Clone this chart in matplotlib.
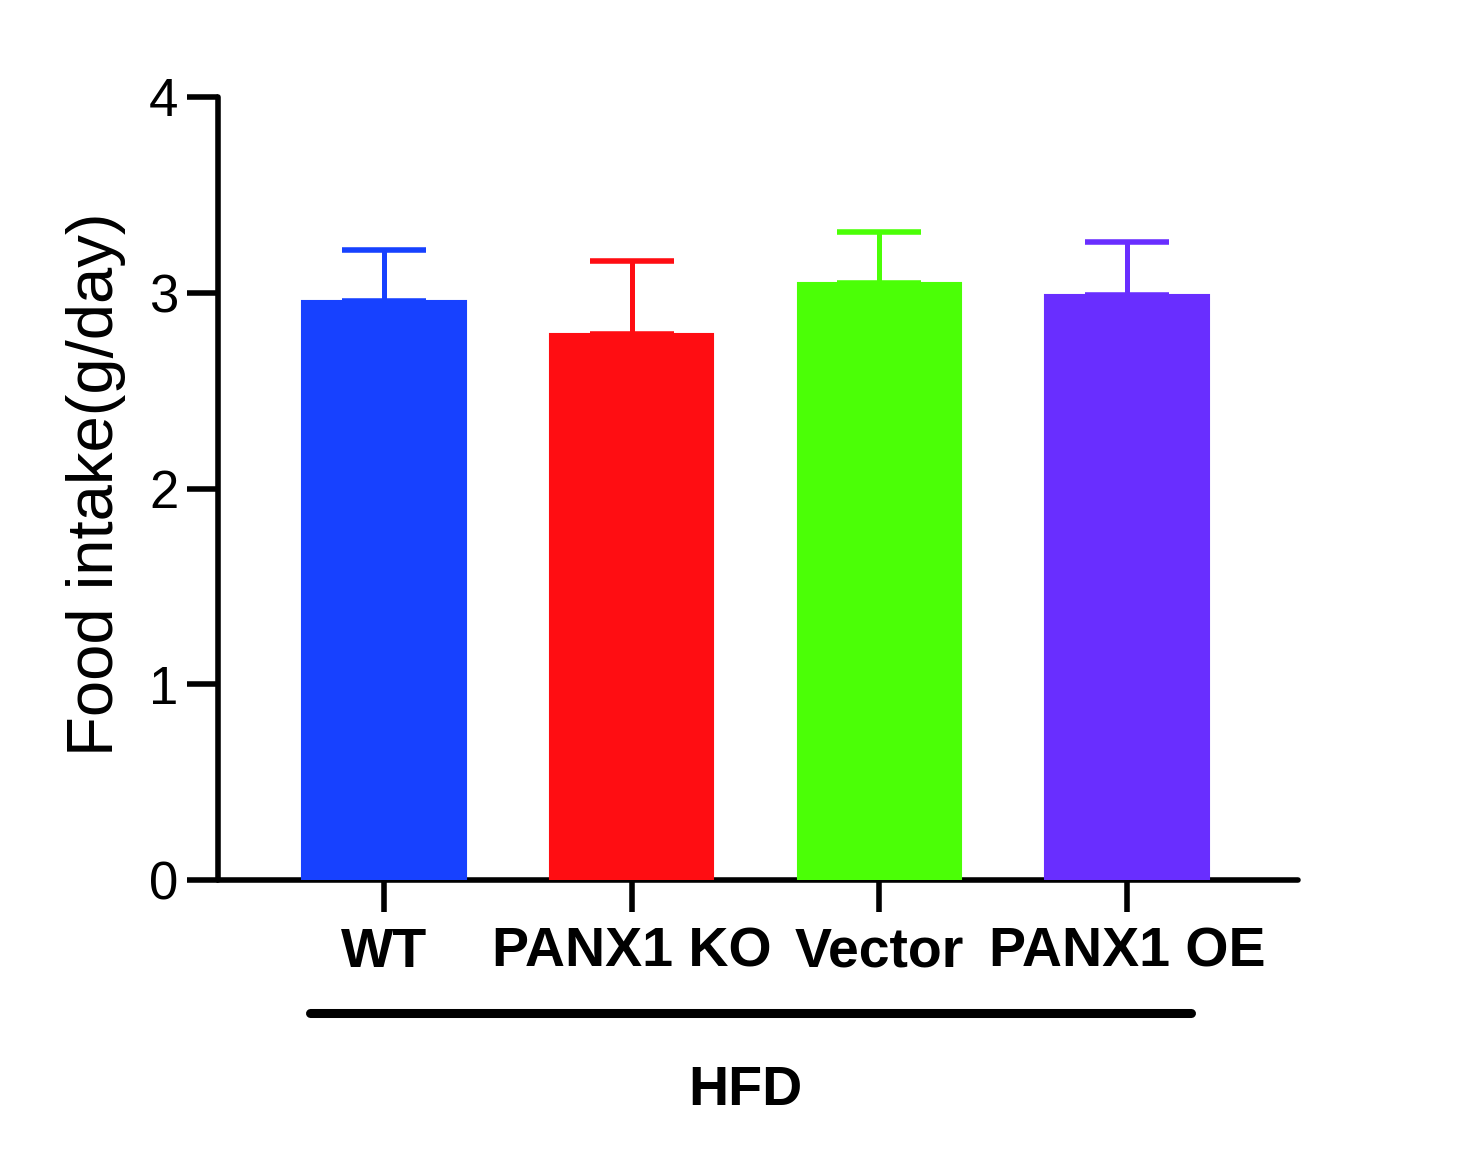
import numpy as np
import matplotlib as mpl
mpl.use("Agg")
import matplotlib.pyplot as plt

#-- fonts: Arial look-alike
plt.rcParams['font.family'] = ['Liberation Sans', 'DejaVu Sans']

#-- values
groups = ['WT', 'PANX1 KO', 'Vector', 'PANX1 OE']
means = [2.96, 2.79, 3.05, 2.99]
sems = [0.26, 0.37, 0.26, 0.27]
colors = ['#1741FF', '#FF0D12', '#4BFF06', '#692EFF']
yticks = [0, 1, 2, 3, 4]
group_label = 'HFD'
ylabel = 'Food intake(g/day)'

fig = plt.figure(figsize=(14.62, 11.74), dpi=100)
ax = fig.add_axes([218/1462, 1-880/1174, 1080/1462, 783/1174])

x = np.arange(len(groups))
ax.bar(x, means, width=0.66, color=colors, edgecolor=colors, linewidth=1.5, zorder=3)
for i in range(len(groups)):
    ax.errorbar(x[i], means[i], yerr=[[0], [sems[i]]], fmt='none', ecolor=colors[i],
                elinewidth=3.6, capsize=30.5, capthick=4, zorder=2)

ax.set_xlim(-0.67, 3.69)
ax.set_ylim(0, 4)
ax.set_yticks(yticks)
ax.set_yticklabels([str(t) for t in yticks], fontsize=38)
ax.set_xticks(x)
ax.set_xticklabels(groups, fontsize=40, fontweight='bold')

for s in ['top', 'right']:
    ax.spines[s].set_visible(False)
for s in ['left', 'bottom']:
    ax.spines[s].set_linewidth(4)
    ax.spines[s].set_capstyle('round')
ax.tick_params(axis='y', length=22, width=4, pad=6.5)
ax.tick_params(axis='x', length=23, width=4, pad=10.5)

#-- group bracket under the labels
tr = ax.get_xaxis_transform()
ax.plot([-0.30, 3.26], [-0.170, -0.170], transform=tr, color='black', lw=6.5,
        solid_capstyle='round', clip_on=False)
ax.text(1.46, -0.2874, group_label, transform=tr, ha='center', va='baseline',
        fontsize=40, fontweight='bold')

fig.text(126/1462, 1-484/1174, ylabel, rotation=90, ha='right', va='center', fontsize=47)

fig.savefig('out.png', dpi=100)
